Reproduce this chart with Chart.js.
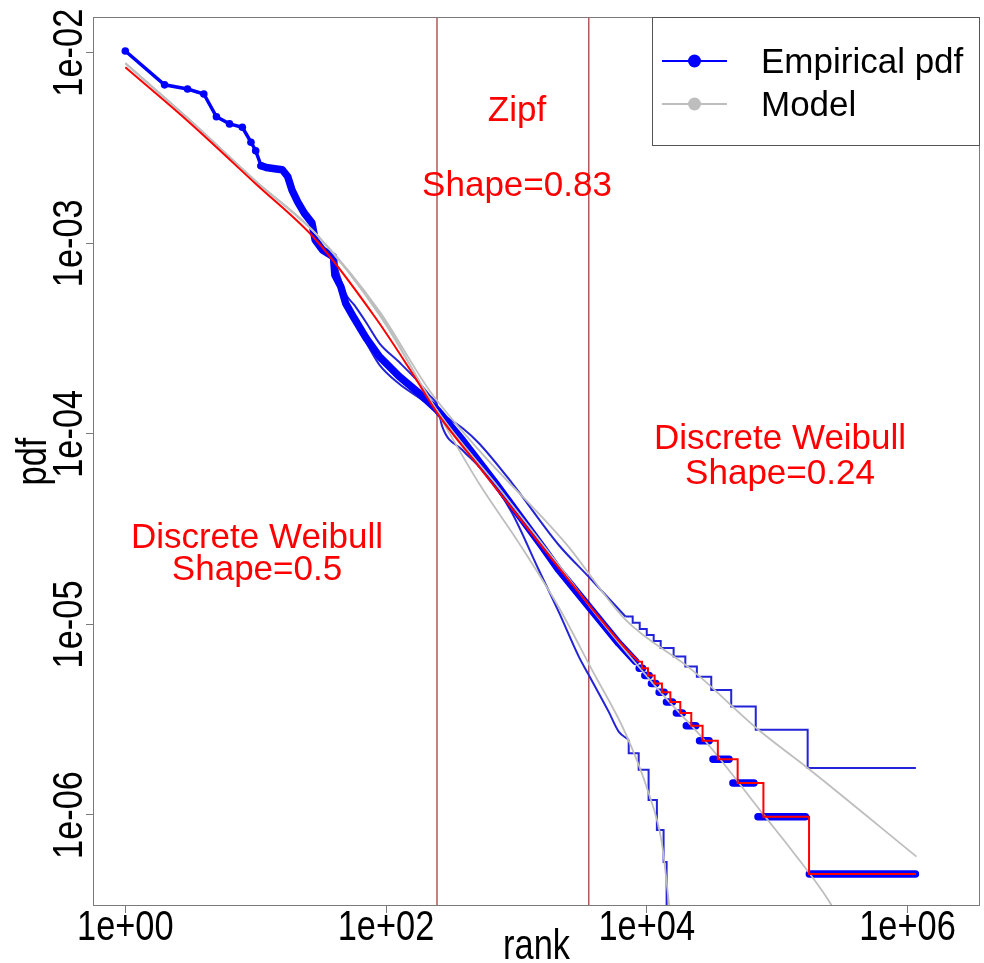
<!DOCTYPE html>
<html>
<head>
<meta charset="utf-8">
<script src="https://cdn.jsdelivr.net/npm/chart.js@4.4.1/dist/chart.umd.min.js"></script>
<style>
  html, body { margin: 0; padding: 0; background: #fff; }
</style>
</head>
<body>
<canvas id="rankChart" width="984" height="963"></canvas>
<script>
// axes
const xLimits = [0.565, 3.6e6];
const yLimits = [3.33e-7, 0.01539];
const xTickVals = [1, 1e2, 1e4, 1e6];
const xTickText = ["1e+00", "1e+02", "1e+04", "1e+06"];
const yTickVals = [1e-2, 1e-3, 1e-4, 1e-5, 1e-6];
const yTickText = ["1e-02", "1e-03", "1e-04", "1e-05", "1e-06"];

// boundaries of the Zipf segment
const zipfBounds = [246, 3590];

// empirical pdf, top ranks (dots)
const empRanks = [1, 2, 3, 4, 5, 6.3, 7.9, 9.2, 10, 11];
const empPdf = [0.0102, 0.00678, 0.00645, 0.00607, 0.00461, 0.00423, 0.00406, 0.00339, 0.00306, 0.00255];

// empirical pdf, dense part (dots merge into a band)
const bandRanks = [11, 12, 14, 16, 17.6, 19, 21, 23.6, 27, 28.6, 32.6, 39.5, 40.5, 45, 49, 57, 70, 89, 126, 180, 248, 385, 693, 1578, 2115, 3590, 6100, 8200];
const bandPdf = [0.00255, 0.0025, 0.00246, 0.00243, 0.00224, 0.0019, 0.00165, 0.00144, 0.00128, 0.00104, 0.000922, 0.00085, 0.000682, 0.000592, 0.000484, 0.000404, 0.00032, 0.000254, 0.0002, 0.000163, 0.000133, 9.29e-5, 5.5e-5, 2.56e-5, 1.93e-5, 1.24e-5, 7.96e-6, 6.4e-6];

// empirical pdf, tail plateaus (count k / N)
const stepPdf = [5.88e-6, 5.39e-6, 4.9e-6, 4.41e-6, 3.92e-6, 3.43e-6, 2.94e-6, 2.45e-6, 1.96e-6, 1.47e-6, 9.8e-7, 4.9e-7];
const stepFrom = [8750, 9660, 10860, 12440, 14160, 16870, 20100, 25400, 32200, 45800, 71300, 176700];
const stepTo = [9270, 10420, 11740, 13590, 15730, 18750, 23750, 30050, 42750, 66400, 164800, 1150000];

// second empirical sample (ends on the high plateau)
const aRanks = [39.5, 45, 49, 57, 70, 89, 126, 180, 214, 248, 287, 385, 516, 929, 2113, 3590, 6860];
const aPdf = [0.00085, 5.69e-4, 4.69e-4, 3.87e-4, 3.03e-4, 2.3e-4, 1.83e-4, 1.543e-4, 1.418e-4, 1.318e-4, 1.23e-4, 1.074e-4, 8.93e-5, 5.5e-5, 2.61e-5, 1.775e-5, 1.1e-5];
const aStepRanks = [6860, 7800, 7800, 8830, 8830, 10000, 10000, 11300, 11300, 12790, 12790, 16070, 16070, 19760, 19760, 24230, 24230, 31240, 31240, 44450, 44450, 68560, 68560, 171500, 171500, 1160000];
const aStepPdf = [1.1e-5, 1.1e-5, 1.019e-5, 1.019e-5, 9.47e-6, 9.47e-6, 8.81e-6, 8.81e-6, 8.19e-6, 8.19e-6, 7.52e-6, 7.52e-6, 6.78e-6, 6.78e-6, 6.01e-6, 6.01e-6, 5.32e-6, 5.32e-6, 4.53e-6, 4.53e-6, 3.71e-6, 3.71e-6, 2.8e-6, 2.8e-6, 1.763e-6, 1.763e-6];

// third empirical sample (falls off the axis)
const bRanks = [39.5, 45, 49, 57, 70, 89, 126, 180, 214, 248, 270, 385, 516, 693, 929, 1486, 2113, 3010, 3590, 5100, 6090, 7270];
const bPdf = [0.00085, 6.42e-4, 5.42e-4, 4.745e-4, 3.86e-4, 2.987e-4, 2.38e-4, 1.85e-4, 1.6e-4, 1.4e-4, 1.09e-4, 8.23e-5, 6.73e-5, 5.28e-5, 3.83e-5, 1.93e-5, 1.163e-5, 6.78e-6, 5.43e-6, 3.485e-6, 2.74e-6, 2.48e-6];
const bStepRanks = [7270, 7270, 8670, 8670, 10330, 10330, 11960, 11960, 13460, 13460, 14200, 14200];
const bStepPdf = [2.48e-6, 2.11e-6, 2.11e-6, 1.726e-6, 1.726e-6, 1.2e-6, 1.2e-6, 8.35e-7, 8.35e-7, 5.67e-7, 5.67e-7, 1.7e-7];

// fitted model (red): smooth part, then rounded-count steps
const modelRanks = [1, 3.1, 10, 29, 83.5, 159, 248, 516, 1577, 3590, 6860, 8700];
const modelPdf = [0.00838, 0.0043, 0.00205, 0.00104, 0.000404, 0.000208, 0.000128, 6.73e-5, 2.55e-5, 1.27e-5, 7.5e-6, 6.37e-6];
const modelStepRanks = [8700, 9190, 9190, 10210, 10210, 11490, 11490, 13070, 13070, 15170, 15170, 18080, 18080, 21950, 21950, 26800, 26800, 35100, 35100, 49800, 49800, 78500, 78500, 175800, 175800, 1160000];
const modelStepPdf = [6.37e-6, 6.37e-6, 5.88e-6, 5.88e-6, 5.39e-6, 5.39e-6, 4.9e-6, 4.9e-6, 4.41e-6, 4.41e-6, 3.92e-6, 3.92e-6, 3.43e-6, 3.43e-6, 2.94e-6, 2.94e-6, 2.45e-6, 2.45e-6, 1.96e-6, 1.96e-6, 1.47e-6, 1.47e-6, 9.8e-7, 9.8e-7, 4.9e-7, 4.9e-7];

// model curves (grey)
const grayRanks = [1, 3.1, 10, 29, 89, 248, 735, 2113, 4280, 12350, 29800, 80900, 129000, 247000, 351600];
const grayPdf = [0.0088, 0.00445, 0.00212, 0.00112, 0.00043, 0.000132, 5.2e-5, 2.05e-5, 1.08e-5, 4.52e-6, 2.33e-6, 9.8e-7, 6.55e-7, 3.58e-7, 2.34e-7];
const grayARanks = [1, 3.1, 10, 29, 89, 214, 516, 2380, 6860, 22200, 71900, 171500, 1170000];
const grayAPdf = [0.0088, 0.00445, 0.00212, 0.00112, 0.00044, 0.00017, 8.22e-5, 2.67e-5, 1.06e-5, 5.77e-6, 2.8e-6, 1.763e-6, 6.05e-7];
const grayBRanks = [1, 3.1, 10, 29, 89, 214, 516, 1047, 2113, 3800, 6860, 10350, 13070, 14700, 15520];
const grayBPdf = [0.0088, 0.00445, 0.00212, 0.00112, 0.00042, 0.000154, 5.5e-5, 2.67e-5, 1.23e-5, 5.77e-6, 2.69e-6, 1.3e-6, 7.1e-7, 3.58e-7, 2.49e-7];

const BLUE = "#0000ff";
const THIN_BLUE = "#2323d8";
const GREY = "#bebebe";
const RED = "#ff0000";
const VLINE = "rgba(160,45,45,0.8)";
const FONT = '"Liberation Sans", Arial, Helvetica, sans-serif';

const pts = (xs, ys) => xs.map((v, i) => ({ x: v, y: ys[i] }));

// thick dotted band: dense part plus tail plateaus, split by gaps
const bandData = pts(bandRanks, bandPdf);
stepPdf.forEach((p, i) => {
  bandData.push({ x: stepFrom[i], y: null });
  bandData.push({ x: stepFrom[i], y: p }, { x: stepTo[i], y: p });
});

const vline = (r) => [{ x: r, y: yLimits[0] }, { x: r, y: yLimits[1] }];

function lineSet(data, color, width, order, extra) {
  return Object.assign({
    data: data,
    borderColor: color,
    borderWidth: width,
    pointRadius: 0,
    fill: false,
    tension: 0,
    clip: 0,
    order: order
  }, extra || {});
}
const smooth = { cubicInterpolationMode: "monotone" };

// text squeezed like the narrow axis font of the original
function narrowText(ctx, str, x, y, rot) {
  ctx.save();
  ctx.translate(x, y);
  if (rot) ctx.rotate(rot);
  ctx.scale(0.8, 1);
  ctx.fillText(str, 0, 0);
  ctx.restore();
}

const decor = {
  id: "decor",
  afterDraw(chart) {
    const { ctx, chartArea: a } = chart;
    const sx = chart.scales.x, sy = chart.scales.y;
    ctx.save();

    // plot box
    ctx.strokeStyle = "#7a7a7a";
    ctx.lineWidth = 1;
    ctx.strokeRect(a.left + 0.5, a.top + 0.5, a.right - a.left - 1, a.bottom - a.top - 1);

    // tick labels
    ctx.fillStyle = "#000";
    ctx.font = "43px " + FONT;
    ctx.textAlign = "center";
    ctx.textBaseline = "alphabetic";
    xTickVals.forEach((v, i) => narrowText(ctx, xTickText[i], sx.getPixelForValue(v), 940, 0));
    yTickVals.forEach((v, i) => narrowText(ctx, yTickText[i], 82, sy.getPixelForValue(v), -Math.PI / 2));

    // axis titles
    narrowText(ctx, "rank", (a.left + a.right) / 2, 959, 0);
    narrowText(ctx, "pdf", 46, (a.top + a.bottom) / 2, -Math.PI / 2);

    // annotations
    ctx.fillStyle = RED;
    ctx.font = "35px " + FONT;
    ctx.fillText("Zipf", 517, 121);
    ctx.fillText("Shape=0.83", 517, 196);
    ctx.fillText("Discrete Weibull", 257, 548);
    ctx.fillText("Shape=0.5", 257, 580);
    ctx.fillText("Discrete Weibull", 780, 449);
    ctx.fillText("Shape=0.24", 780, 484);

    // legend
    const lx = 652.5, ly = 17.5, lw = a.right - 0.5 - lx, lh = 128;
    ctx.fillStyle = "#fff";
    ctx.fillRect(lx, ly, lw, lh);
    ctx.strokeStyle = "#555";
    ctx.lineWidth = 1;
    ctx.strokeRect(lx, ly, lw, lh);
    const entries = [["Empirical pdf", BLUE, 61], ["Model", GREY, 104]];
    entries.forEach(([label, col, yy]) => {
      ctx.strokeStyle = col;
      ctx.lineWidth = 2;
      ctx.beginPath();
      ctx.moveTo(662, yy);
      ctx.lineTo(727, yy);
      ctx.stroke();
      ctx.fillStyle = col;
      ctx.beginPath();
      ctx.arc(694.5, yy, 6.5, 0, Math.PI * 2);
      ctx.fill();
      ctx.fillStyle = "#000";
      ctx.textAlign = "left";
      ctx.textBaseline = "middle";
      ctx.fillText(label, 761, yy + 2);
    });
    ctx.restore();
  }
};

new Chart(document.getElementById("rankChart"), {
  type: "line",
  data: {
    datasets: [
      lineSet(pts(modelRanks, modelPdf), RED, 2, 1, smooth),
      lineSet(pts(modelStepRanks, modelStepPdf), RED, 2, 1),
      lineSet(pts(grayRanks, grayPdf), GREY, 1.8, 2, smooth),
      lineSet(pts(grayARanks, grayAPdf), GREY, 1.8, 2, smooth),
      lineSet(pts(grayBRanks, grayBPdf), GREY, 1.8, 2, smooth),
      lineSet(pts(empRanks, empPdf), BLUE, 3.5, 4, {
        pointRadius: 3.8,
        pointBackgroundColor: BLUE,
        pointBorderWidth: 0
      }),
      lineSet(bandData, BLUE, 7.5, 4, {
        borderCapStyle: "round",
        borderJoinStyle: "round",
        spanGaps: false
      }),
      lineSet(pts(aRanks, aPdf), THIN_BLUE, 2, 6, smooth),
      lineSet(pts(aStepRanks, aStepPdf), THIN_BLUE, 2, 6),
      lineSet(pts(bRanks, bPdf), THIN_BLUE, 2, 6, smooth),
      lineSet(pts(bStepRanks, bStepPdf), THIN_BLUE, 2, 6),
      lineSet(vline(zipfBounds[0]), VLINE, 1.5, 9),
      lineSet(vline(zipfBounds[1]), VLINE, 1.5, 9)
    ]
  },
  options: {
    responsive: false,
    devicePixelRatio: 1,
    animation: false,
    events: [],
    layout: { padding: { top: 17, right: 2, left: 0, bottom: 0 } },
    plugins: {
      legend: { display: false },
      tooltip: { enabled: false }
    },
    scales: {
      x: {
        type: "logarithmic",
        min: xLimits[0],
        max: xLimits[1],
        border: { display: false },
        grid: { drawOnChartArea: false, drawTicks: true, tickLength: 7, color: "#7a7a7a" },
        ticks: { display: false },
        afterBuildTicks: (s) => { s.ticks = xTickVals.map((v) => ({ value: v })); },
        afterFit: (s) => { s.height = 57; }
      },
      y: {
        type: "logarithmic",
        min: yLimits[0],
        max: yLimits[1],
        border: { display: false },
        grid: { drawOnChartArea: false, drawTicks: true, tickLength: 7, color: "#7a7a7a" },
        ticks: { display: false },
        afterBuildTicks: (s) => { s.ticks = yTickVals.map((v) => ({ value: v })); },
        afterFit: (s) => { s.width = 93; }
      }
    }
  },
  plugins: [decor]
});
</script>
</body>
</html>
